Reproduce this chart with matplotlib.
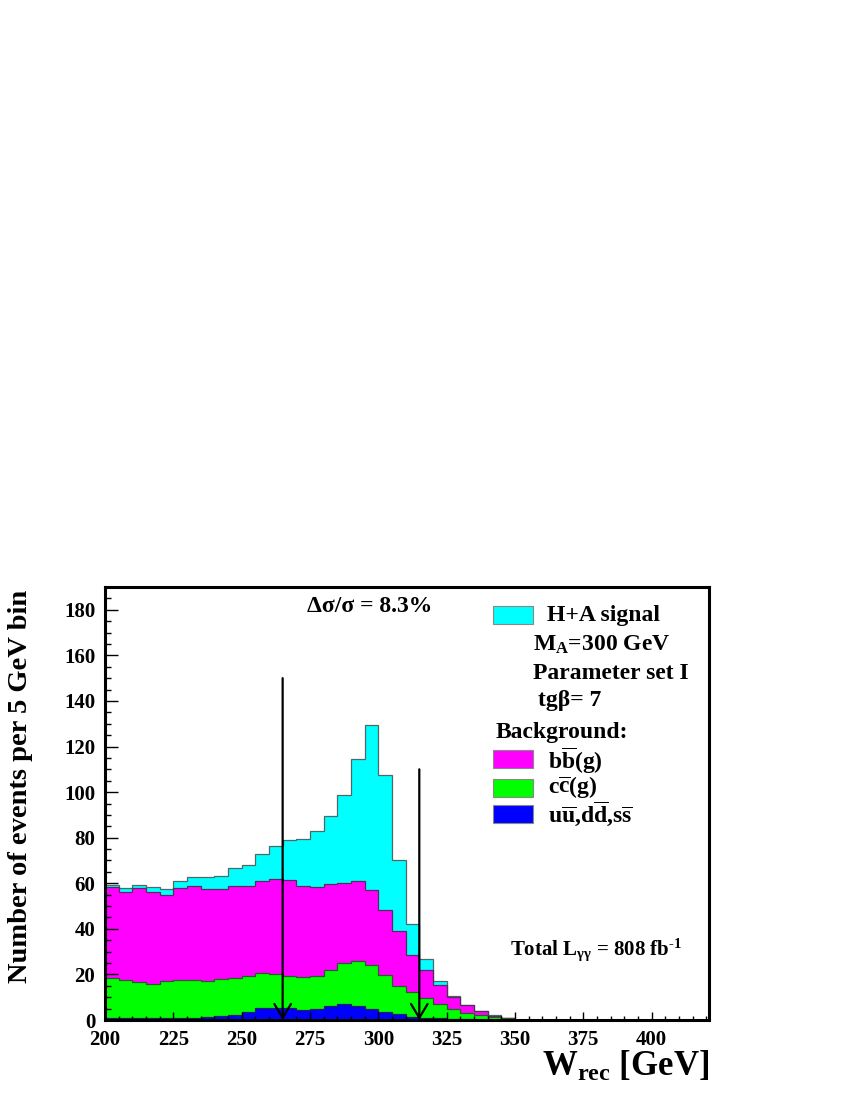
import numpy as np
import matplotlib.pyplot as plt
from matplotlib.patches import Rectangle

plt.rcParams['font.family'] = ['Liberation Serif', 'DejaVu Serif']
plt.rcParams['font.weight'] = 'bold'
plt.rcParams['mathtext.fontset'] = 'custom'
plt.rcParams['mathtext.rm'] = 'Liberation Serif:bold'
plt.rcParams['mathtext.it'] = 'Liberation Serif:bold'
plt.rcParams['mathtext.bf'] = 'Liberation Serif:bold'

# bin edges (5 GeV bins) and per-process contents
bin_lo = 200
bin_w = 5
uu_dd_ss = [0.7, 0.7, 0.7, 0.8, 0.8, 1.0, 1.0, 1.2, 1.8, 2.2,
            3.4, 5.1, 5.4, 5.1, 4.5, 4.8, 6.0, 7.2, 6.3, 4.7,
            3.7, 2.5, 1.3, 0.9, 0.7, 0.5, 0.3, 0.2, 0.1, 0.0]
cc_g = [17.6, 16.9, 16.0, 15.2, 16.1, 16.5, 16.5, 16.0, 16.1, 16.1,
        16.0, 15.4, 14.8, 14.3, 14.3, 14.3, 16.0, 18.0, 19.5, 19.4,
        16.1, 12.2, 10.9, 8.8, 6.3, 4.2, 2.8, 2.0, 1.2, 0.7]
bb_g = [39.9, 38.6, 41.3, 40.2, 38.1, 40.5, 41.3, 40.5, 39.5, 40.5,
        39.6, 40.7, 41.7, 42.1, 40.2, 39.1, 37.6, 35.1, 35.2, 33.1,
        28.3, 24.2, 16.4, 12.3, 8.5, 5.4, 3.5, 1.9, 0.6, 0.2]
signal = [1.1, 1.8, 1.4, 2.0, 2.7, 3.2, 4.1, 4.9, 5.8, 8.0,
          8.9, 11.6, 14.4, 17.4, 20.5, 24.8, 29.9, 38.6, 53.7, 72.3,
          59.3, 31.1, 13.7, 4.7, 1.6, 0.3, 0.1, 0.0, 0.2, 0.0]

cut_lo, cut_hi = 265, 315
arrow_top = [150, 110]

edges = bin_lo + bin_w * np.arange(len(signal) + 1)
c1 = np.array(uu_dd_ss)
c2 = c1 + np.array(cc_g)
c3 = c2 + np.array(bb_g)
c4 = c3 + np.array(signal)

fig = plt.figure(figsize=(8.5, 11), dpi=100)
ax = fig.add_axes([105 / 850, 80 / 1100, 604 / 850, 433 / 1100])

# stacked histogram, drawn from the total down
for top, col in [(c4, '#00ffff'), (c3, '#ff00ff'), (c2, '#00ff00'), (c1, '#0000ff')]:
    ax.stairs(top, edges, baseline=0, fill=True, color=col)
for top, ec in [(c4, '#4a6a6a'), (c3, '#5a2a5a'), (c2, '#2a5a2a'), (c1, '#20205a')]:
    ax.stairs(top, edges, baseline=None, color=ec, lw=0.9)

# cut arrows
for xc, yt in zip([cut_lo, cut_hi], arrow_top):
    ax.annotate('', xy=(xc, 0), xytext=(xc, yt),
                arrowprops=dict(arrowstyle='->,head_length=0.5,head_width=0.3',
                                color='black', lw=1.6, mutation_scale=20,
                                shrinkA=0, shrinkB=0))

ax.set_xlim(200, 421)
ax.set_ylim(0, 190)
ax.set_xticks(np.arange(200, 401, 25))
ax.set_xticks(np.arange(200, 421, 5), minor=True)
ax.set_yticks(np.arange(0, 181, 20))
ax.set_yticks(np.arange(0, 191, 5), minor=True)
ax.tick_params(axis='both', which='both', direction='in', top=False, right=False,
               labelsize=15, width=1.0)
ax.tick_params(axis='x', which='major', length=6, pad=7)
ax.tick_params(axis='x', which='minor', length=3)
ax.tick_params(axis='y', which='major', length=9, pad=7)
ax.tick_params(axis='y', which='minor', length=4.5)
for lab in ax.get_xticklabels() + ax.get_yticklabels():
    lab.set_fontweight('bold')
for s in ax.spines.values():
    s.set_linewidth(2.2)

ax.set_ylabel('Number of events per 5 GeV bin', fontsize=20.5, fontweight='bold')
ax.yaxis.set_label_coords(-0.12, 0.54)
ax.set_xlabel(r'W$_{\rm rec}$ [GeV]', fontsize=25, fontweight='bold', loc='right', labelpad=0)

# annotations
ax.text(0.334, 0.956, '\u0394\u03c3/\u03c3 = 8.3%', transform=ax.transAxes,
        fontsize=17, fontweight='bold', va='center')
ax.text(0.671, 0.162, 'Total L$_{\\gamma\\gamma}$ = 808 fb$^{\\rm \u2010 1}$', transform=ax.transAxes,
        fontsize=15, fontweight='bold', va='center')

# legend
boxes = [(0.915, '#00ffff'), (0.582, '#ff00ff'), (0.515, '#00ff00'), (0.455, '#0000ff')]
for yb, col in boxes:
    ax.add_patch(Rectangle((0.642, yb), 0.067, 0.042, transform=ax.transAxes,
                           facecolor=col, edgecolor='#888888', lw=0.8, clip_on=False))
legend_text = [
    (0.732, 0.935, 'H+A signal'),
    (0.709, 0.866, r'M$_{\rm A}$=300 GeV'),
    (0.709, 0.801, 'Parameter set I'),
    (0.717, 0.739, 'tg\u03b2= 7'),
    (0.647, 0.663, 'Background:'),
    (0.733, 0.600, r'b$\overline{\rm b}$(g)'),
    (0.733, 0.538, r'c$\overline{\rm c}$(g)'),
    (0.733, 0.476, r'u$\overline{\rm u}$,d$\overline{\rm d}$,s$\overline{\rm s}$'),
]
for xt, yt, s in legend_text:
    ax.text(xt, yt, s, transform=ax.transAxes, fontsize=17, fontweight='bold', va='center')

fig.savefig('out.png', dpi=100)
